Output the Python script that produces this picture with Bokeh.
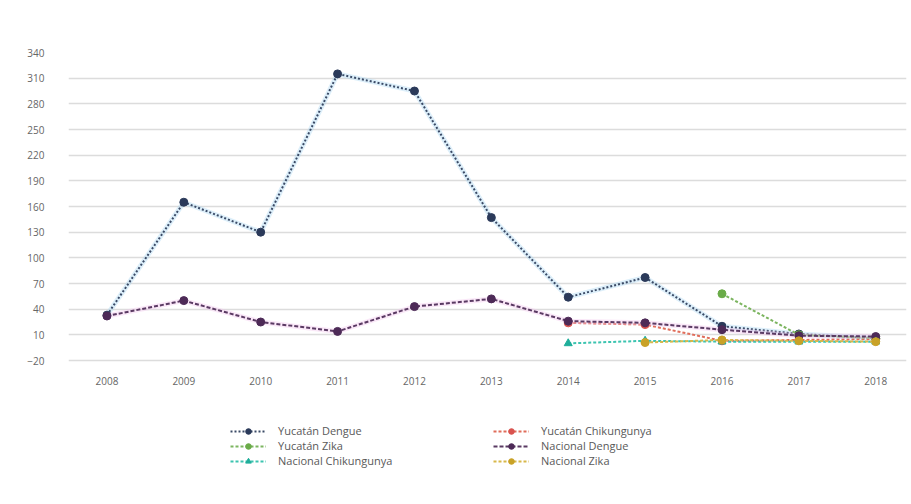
from bokeh.plotting import figure
from bokeh.models import Range1d, FixedTicker, Legend, LegendItem
from bokeh.embed import file_html
from bokeh.resources import INLINE

nan = float("nan")

years = [2008, 2009, 2010, 2011, 2012, 2013, 2014, 2015, 2016, 2017, 2018]
y_ticks = [-20, 10, 40, 70, 100, 130, 160, 190, 220, 250, 280, 310, 340]

yucatan_dengue = [33, 165, 130, 315, 295, 147, 54, 77, 20, 11, 6]
yucatan_chik = [nan, nan, nan, nan, nan, nan, 24, 22, 3, 4, 5]
yucatan_zika = [nan, nan, nan, nan, nan, nan, nan, nan, 58, 10, 6]
nacional_dengue = [32, 50, 25, 14, 43, 52, 26, 24, 16, 9, 8]
nacional_chik = [nan, nan, nan, nan, nan, nan, 0, 3, 2, 2, 2]
nacional_zika = [nan, nan, nan, nan, nan, nan, nan, 1, 4, 3, 2]

series = [
    ("Yucatán Dengue", yucatan_dengue, "#3a4a66", "#2b3a5a", "circle", "2 2", "#a9d8f2"),
    ("Yucatán Chikungunya", yucatan_chik, "#e06d5a", "#d9534f", "circle", "3 2", None),
    ("Yucatán Zika", yucatan_zika, "#7cb560", "#6aab48", "circle", "3 2", None),
    ("Nacional Dengue", nacional_dengue, "#5a3a63", "#4d2a57", "circle", "4 2", "#f3c6ee"),
    ("Nacional Chikungunya", nacional_chik, "#3cc4b0", "#1fae9a", "triangle", "3 2", None),
    ("Nacional Zika", nacional_zika, "#d8b84a", "#c9a227", "circle", "3 2", None),
]

# frame spans page y 52..470; ticks -20..340 occupy 52..360
y_low = 340 - 360 * (470 - 52) / 308

p = figure(width=908, height=500, output_backend="svg", toolbar_location=None,
           x_range=Range1d(2007.5, 2018.4), y_range=Range1d(y_low, 340),
           min_border_left=68, min_border_right=2, min_border_top=52,
           min_border_bottom=30)
p.outline_line_color = None
p.background_fill_color = "white"

p.xgrid.grid_line_color = None
p.ygrid.grid_line_color = "#dcdcdc"
p.ygrid.grid_line_width = 1.5

p.yaxis.ticker = FixedTicker(ticks=y_ticks)
p.xaxis.ticker = FixedTicker(ticks=years)
p.xaxis.fixed_location = y_ticks[0]
for ax in (p.xaxis, p.yaxis):
    ax.axis_line_color = None
    ax.major_tick_line_color = None
    ax.minor_tick_line_color = None
    ax.major_label_text_color = "#666666"
    ax.major_label_text_font = "Open Sans"
    ax.major_label_text_font_size = "10px"
p.yaxis.major_label_standoff = 18
p.xaxis.major_label_standoff = 10

items = {}
for name, vals, lcol, mcol, marker, dash, halo in series:
    if halo:
        p.line(years, vals, line_color=halo, line_width=5, line_alpha=0.4)
    lr = p.line(years, vals, line_color=lcol, line_width=2, line_dash=dash)
    sr = p.scatter(years, vals, marker=marker, size=8, fill_color=mcol,
                   line_color=mcol)
    items[name] = LegendItem(label=name, renderers=[lr, sr])


def make_legend(names, x):
    lg = Legend(items=[items[n] for n in names], location=(x, 2),
                orientation="vertical", padding=0, margin=0, spacing=0,
                label_height=14, glyph_height=14, glyph_width=36,
                label_standoff=12, border_line_color=None,
                background_fill_alpha=0,
                label_text_font="Open Sans", label_text_font_size="11px",
                label_text_color="#595959")
    p.add_layout(lg, "center")


make_legend(["Yucatán Dengue", "Yucatán Zika", "Nacional Chikungunya"], 162)
make_legend(["Yucatán Chikungunya", "Nacional Dengue", "Nacional Zika"], 425)

open("out.html", "w").write(file_html(p, INLINE))
